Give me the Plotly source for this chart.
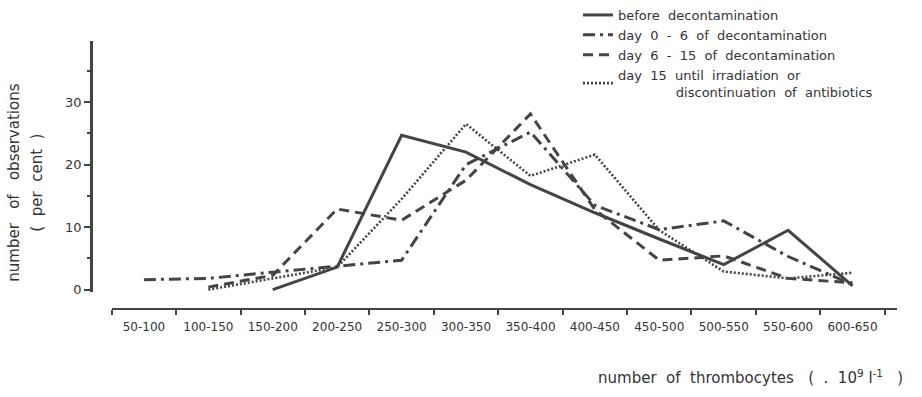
import plotly.graph_objects as go

# Thrombocyte count classes (10^9 per litre)
categories = ["50-100", "100-150", "150-200", "200-250", "250-300", "300-350",
              "350-400", "400-450", "450-500", "500-550", "550-600", "600-650"]

# Percentage of observations per class for each phase
before_decon = [None, None, 0.0, 3.6, 24.7, 22.0, 16.8, 12.3, 8.1, 4.0, 9.5, 0.6]
day_0_6 = [1.6, 1.8, 2.8, 3.8, 4.7, 20.0, 25.2, 13.5, 9.6, 11.0, 5.3, 0.8]
day_6_15 = [None, 0.4, 2.3, 12.9, 11.1, 17.5, 28.1, 12.8, 4.7, 5.4, 1.8, 1.1]
day_15_on = [None, 0.0, 1.8, 3.6, 14.5, 26.5, 18.2, 21.6, 9.5, 2.9, 1.8, 2.7]

y_major = [0, 10, 20, 30]
y_minor = [5, 15, 25, 35]

NB = "\u00a0"
SP = NB * 2
INK = "#444444"
TXT = "#333333"
FONT = "DejaVu Sans"

W, H = 922, 397

series = [
    (f"before{SP}decontamination", before_decon, "solid", 3),
    (f"day{SP}0{SP}-{SP}6{SP}of{SP}decontamination", day_0_6, "12px,5px,3px,5px", 3),
    (f"day{SP}6{SP}-{SP}15{SP}of{SP}decontamination", day_6_15, "10px,6px", 3),
    (f"day{SP}15{SP}until{SP}irradiation{SP}or<br>" + NB * 14 +
     f"discontinuation{SP}of{SP}antibiotics", day_15_on, "2px,2px", 2.6),
]

fig = go.Figure()
for name, vals, dash, width in series:
    fig.add_trace(go.Scatter(
        x=categories, y=vals, mode="lines", name=name,
        connectgaps=False,
        line=dict(color=INK, width=width, dash=dash),
    ))

fig.update_layout(
    width=W, height=H,
    margin=dict(l=0, r=0, t=0, b=0),
    paper_bgcolor="white", plot_bgcolor="white",
    font=dict(family=FONT, color=TXT),
    showlegend=True,
    legend=dict(
        x=578 / W, xanchor="left", y=1.0, yanchor="top",
        bgcolor="rgba(0,0,0,0)", borderwidth=0,
        font=dict(family=FONT, size=13, color=TXT),
        tracegroupgap=0, itemwidth=30,
    ),
    xaxis=dict(
        type="category", categoryorder="array", categoryarray=categories,
        range=[-0.5, 11.69],
        domain=[111.7 / W, 897 / W],
        anchor="free", position=(H - 313) / H,
        showline=True, linewidth=2, linecolor=INK,
        ticks="outside", ticklen=5, tickwidth=2, tickcolor=INK,
        tickson="boundaries", ticklabelstandoff=7,
        tickfont=dict(family=FONT, size=12, color=TXT),
        showgrid=False, zeroline=False,
    ),
    yaxis=dict(
        range=[-0.42, 39.7],
        domain=[(H - 296) / H, (H - 42) / H],
        anchor="free", position=91 / W,
        showline=True, linewidth=2.5, linecolor=INK,
        tickmode="array", tickvals=y_major, ticktext=[str(v) for v in y_major],
        ticks="outside", ticklen=6, tickwidth=2, tickcolor=INK,
        minor=dict(tickmode="array", tickvals=y_minor, ticks="outside",
                   ticklen=3, tickwidth=2, tickcolor=INK),
        tickfont=dict(family=FONT, size=13, color=TXT),
        showgrid=False, zeroline=False,
    ),
    annotations=[
        dict(text=f"number{NB * 3}of{NB * 3}observations", textangle=-90,
             xref="paper", yref="paper", x=14 / W, y=(H - 185) / H,
             xanchor="center", yanchor="middle", showarrow=False,
             font=dict(family=FONT, size=15, color=TXT)),
        dict(text=f"({SP}per{SP}cent{SP})", textangle=-90,
             xref="paper", yref="paper", x=37 / W, y=(H - 185) / H,
             xanchor="center", yanchor="middle", showarrow=False,
             font=dict(family=FONT, size=15, color=TXT)),
        dict(text=f"number{SP}of{SP}thrombocytes{NB * 3}({SP}.{SP}10<sup>9</sup>{NB}l<sup>-1</sup>{NB * 3})",
             xref="paper", yref="paper", x=905 / W, y=(H - 382) / H,
             xanchor="right", yanchor="middle", showarrow=False,
             font=dict(family=FONT, size=15, color=TXT)),
    ],
)

fig.write_html("out.html")
